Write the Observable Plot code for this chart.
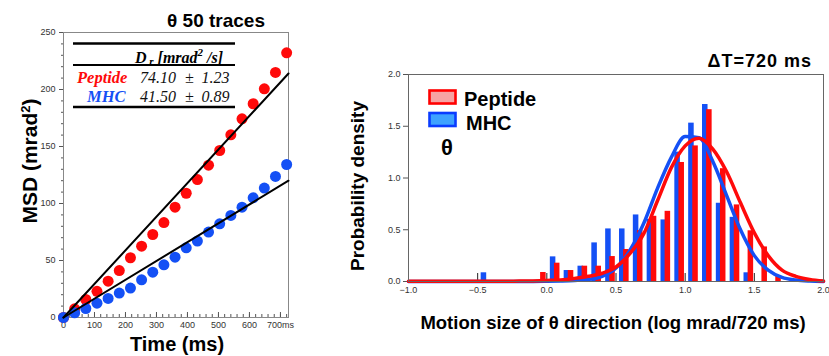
<!DOCTYPE html>
<html><head><meta charset="utf-8">
<script src="https://cdn.jsdelivr.net/npm/d3@7"></script>
<script src="https://cdn.jsdelivr.net/npm/@observablehq/plot@0.6"></script>
<style>
body{margin:0;background:#fff;}
#wrap{position:relative;width:829px;height:356px;overflow:hidden;font-family:Arial,"Liberation Sans",sans-serif;}
#wrap > svg, #wrap > div{position:absolute;}
#overlay{left:0;top:0;pointer-events:none;}
.b{font-family:Arial,"Liberation Sans",sans-serif;font-weight:bold;fill:#000;}
.serif{font-family:"Liberation Serif","Times New Roman",serif;font-style:italic;}
</style></head><body><div id="wrap"></div>
<script>
// ---------- Left panel data (MSD vs time) ----------
const timeMs = [0,36,72,108,144,180,216,252,288,324,360,396,432,468,504,540,576,612,648,684,720];
const peptideMSD = [0,7.6,15.8,23,31.9,41.2,52.4,62.6,72.8,83.3,96.8,109,121,133.6,146.5,160.2,174.3,187.5,200.6,215,232.2];
const mhcMSD = [0,4.1,7.9,12.6,16.7,21.4,25.8,33.1,39.8,46.2,52.9,61.1,67,74.9,82.2,89.5,96.8,105,113.5,123.7,134.2];
const fitTime = [0, 726];
const peptideFit = [0, 214];
const mhcFit = [0, 120];
const xTicksLeft = [0,100,200,300,400,500,600,700];
const yTicksLeft = [0,50,100,150,200,250];
const tableNames = ["Peptide","MHC"];
const tableDr = ["74.10","41.50"];
const tableErr = ["1.23","0.89"];

// ---------- Right panel data (histogram) ----------
const binStart = [-0.5,-0.4,-0.3,-0.2,-0.1,0.0,0.1,0.2,0.3,0.4,0.5,0.6,0.7,0.8,0.9,1.0,1.1,1.2,1.3,1.4,1.5,1.6];
const mhcDensity = [0.084,0,0,0,0,0.238,0.106,0.148,0.373,0.508,0.508,0.643,0.60,0.595,1.25,1.53,1.71,0.756,0.62,0.084,0,0];
const peptideDensity = [0,0,0,0,0.087,0.177,0.106,0.148,0.148,0.241,0.309,0.492,0.63,0.678,1.15,1.31,1.66,1.09,0.74,0.49,0.334,0.048];
const curveX = [-1.0,-0.9,-0.8,-0.7,-0.6,-0.5,-0.4,-0.3,-0.2,-0.1,0.0,0.1,0.2,0.3,0.4,0.5,0.6,0.7,0.8,0.9,1.0,1.1,1.2,1.3,1.4,1.5,1.6,1.7,1.8,1.9,2.0];
const mhcCurve = [0,0,0,0,0,0,0,0,0,0,0.002,0.005,0.01,0.02,0.05,0.13,0.30,0.56,0.90,1.20,1.40,1.39,1.16,0.83,0.50,0.25,0.11,0.04,0.015,0.005,0.001];
const peptideCurve = [0.003,0.003,0.003,0.003,0.003,0.003,0.003,0.003,0.004,0.006,0.01,0.015,0.03,0.05,0.08,0.14,0.27,0.46,0.78,1.10,1.31,1.385,1.28,1.06,0.76,0.47,0.25,0.11,0.05,0.02,0.005];
const xTicksRight = [-1.0,-0.5,0.0,0.5,1.0,1.5,2.0];
const yTicksRight = [0.0,0.5,1.0,1.5,2.0];

const RED = "#ff0a0a", BLUE = "#1450f5";

const wrap = document.getElementById("wrap");

// ---------- Left plot ----------
const msd = timeMs.flatMap((t,i)=>[{t, v: peptideMSD[i], s:"Peptide"},{t, v: mhcMSD[i], s:"MHC"}]);
const fits = [
  ...fitTime.map((t,i)=>({t, v: peptideFit[i], s:"Peptide"})),
  ...fitTime.map((t,i)=>({t, v: mhcFit[i], s:"MHC"}))
];
const left = Plot.plot({
  width: 300, height: 356,
  marginLeft: 63, marginRight: 12, marginTop: 32, marginBottom: 39,
  x: {domain: [0, 726]},
  y: {domain: [0, 250]},
  style: {fontSize: "9px", fontFamily: "Arial, 'Liberation Sans', sans-serif", color: "#333", background: "transparent", overflow: "visible"},
  marks: [
    Plot.axisY({ticks: d3.range(0, 251, 10), tickSize: 2, tickFormat: () => "", label: null, stroke: "#555"}),
    Plot.axisY({ticks: yTicksLeft, tickSize: 4, tickPadding: 4, tickFormat: d => d, label: null, stroke: "#555"}),
    Plot.axisX({ticks: d3.range(0, 721, 20), tickSize: 3, dy: -3, tickFormat: () => "", label: null, stroke: "#555"}),
    Plot.axisX({ticks: xTicksLeft, tickSize: 5, dy: -5, tickFormat: () => "", label: null, stroke: "#555"}),
    Plot.axisX({ticks: xTicksLeft, tickSize: 0, tickPadding: 4, tickFormat: d => d === 700 ? "700ms" : d, label: null}),
    Plot.frame({stroke: "#888"}),
    Plot.dot(msd, {x: "t", y: "v", r: 5.5, fill: d => d.s === "Peptide" ? RED : BLUE, stroke: "none"}),
    Plot.line(fits, {x: "t", y: "v", z: "s", stroke: "#000", strokeWidth: 2})
  ]
});
left.style.left = "0px"; left.style.top = "0px";
wrap.appendChild(left);

// ---------- Right plot ----------
const blueBars = binStart.map((b,i)=>({x1: b, x2: b + 0.1, y: mhcDensity[i]})).filter(d => d.y > 0);
const redBars = binStart.map((b,i)=>({x1: b, x2: b + 0.1, y: peptideDensity[i]})).filter(d => d.y > 0);
const curves = [
  ...curveX.map((x,i)=>({x, y: mhcCurve[i], s:"MHC"})),
  ...curveX.map((x,i)=>({x, y: peptideCurve[i], s:"Peptide"}))
];
const right = Plot.plot({
  width: 489, height: 356,
  marginLeft: 68, marginRight: 6, marginTop: 74, marginBottom: 75,
  x: {domain: [-1, 2]},
  y: {domain: [0, 2]},
  style: {fontSize: "9px", fontFamily: "Arial, 'Liberation Sans', sans-serif", color: "#333", background: "transparent", overflow: "visible"},
  marks: [
    Plot.axisY({ticks: yTicksRight, tickSize: 5, tickPadding: 3, tickFormat: ".1f", label: null, stroke: "#555"}),
    Plot.axisX({ticks: xTicksRight, tickSize: 8, dy: -8, tickFormat: () => "", label: null, stroke: "#222"}),
    Plot.axisX({ticks: xTicksRight, tickSize: 0, tickPadding: 5, tickFormat: ".1f", label: null}),
    Plot.rectY(blueBars, {x1: "x1", x2: "x2", y: "y", fill: BLUE, insetLeft: 3.5, insetRight: 4.8}),
    Plot.rectY(redBars, {x1: "x1", x2: "x2", y: "y", fill: RED, insetLeft: 7.6, insetRight: 0.7}),
    Plot.line(curves.filter(d => d.s === "MHC"), {x: "x", y: "y", stroke: BLUE, strokeWidth: 3.5, curve: "monotone-x"}),
    Plot.line(curves.filter(d => d.s === "Peptide"), {x: "x", y: "y", stroke: RED, strokeWidth: 3.5, curve: "monotone-x"}),
    Plot.frame({stroke: "#666"})
  ]
});
right.style.left = "340px"; right.style.top = "0px";
wrap.appendChild(right);

// ---------- Overlay texts, table, legend ----------
const NS = "http://www.w3.org/2000/svg";
const ov = document.createElementNS(NS, "svg");
ov.setAttribute("id", "overlay");
ov.setAttribute("width", 829); ov.setAttribute("height", 356);
wrap.appendChild(ov);
function el(tag, attrs, text) {
  const e = document.createElementNS(NS, tag);
  for (const k in attrs) e.setAttribute(k, attrs[k]);
  if (text != null) e.textContent = text;
  ov.appendChild(e);
  return e;
}
// left titles
el("text", {x: 216, y: 27, "text-anchor": "middle", class: "b", "font-size": 19}, "θ 50 traces");
el("text", {x: 177, y: 350.5, "text-anchor": "middle", class: "b", "font-size": 20}, "Time (ms)");
const msdLab = el("text", {transform: "translate(37,161) rotate(-90)", "text-anchor": "middle", class: "b", "font-size": 21});
msdLab.innerHTML = 'MSD (mrad<tspan dy="-7" font-size="13">2</tspan><tspan dy="7">)</tspan>';

// table
el("line", {x1: 73, x2: 235, y1: 43.5, y2: 43.5, stroke: "#000", "stroke-width": 2.7});
el("line", {x1: 73, x2: 235, y1: 65, y2: 65, stroke: "#000", "stroke-width": 1.8});
el("line", {x1: 73, x2: 235, y1: 107, y2: 107, stroke: "#000", "stroke-width": 2.7});
const hdr = el("text", {x: 135, y: 62.5, class: "serif", "font-weight": "bold", "font-size": 16, fill: "#000"});
hdr.innerHTML = 'D<tspan dy="2" font-size="11"> r</tspan><tspan dy="-2"> [mrad</tspan><tspan dy="-7" font-size="11">2</tspan><tspan dy="7"> /s]</tspan>';
const rowY = [82.5, 101.7];
const rowColor = [RED, BLUE];
const nameX = [77, 87];
tableNames.forEach((n, i) => {
  el("text", {x: nameX[i], y: rowY[i], class: "serif", "font-weight": "bold", "font-size": 16.5, fill: rowColor[i]}, n);
  el("text", {x: 140, y: rowY[i], class: "serif", "font-size": 16, fill: "#111"}, tableDr[i]);
  el("text", {x: 189.5, y: rowY[i], "text-anchor": "middle", class: "serif", "font-size": 16, fill: "#111"}, "±");
  el("text", {x: 201.5, y: rowY[i], class: "serif", "font-size": 16, fill: "#111"}, tableErr[i]);
});

// right titles
el("text", {x: 812, y: 66.5, "text-anchor": "end", class: "b", "font-size": 18, "letter-spacing": 1}, "ΔT=720 ms");
el("text", {x: 613, y: 328.5, "text-anchor": "middle", class: "b", "font-size": 18.5}, "Motion size of θ direction (log mrad/720 ms)");
el("text", {transform: "translate(364,186) rotate(-90)", "text-anchor": "middle", class: "b", "font-size": 19}, "Probability density");

// legend
el("rect", {x: 429.5, y: 90.5, width: 26, height: 13, fill: "#f7a3a3", stroke: "#ff0000", "stroke-width": 2.6});
el("rect", {x: 429.5, y: 113, width: 26, height: 13, fill: "#3ea2ff", stroke: "#0a3cff", "stroke-width": 2.6});
el("text", {x: 464, y: 106, class: "b", "font-size": 20}, "Peptide");
el("text", {x: 466, y: 129.5, class: "b", "font-size": 20}, "MHC");
el("text", {x: 441, y: 155, class: "b", "font-size": 22, fill: "#111"}, "θ");
</script></body></html>
